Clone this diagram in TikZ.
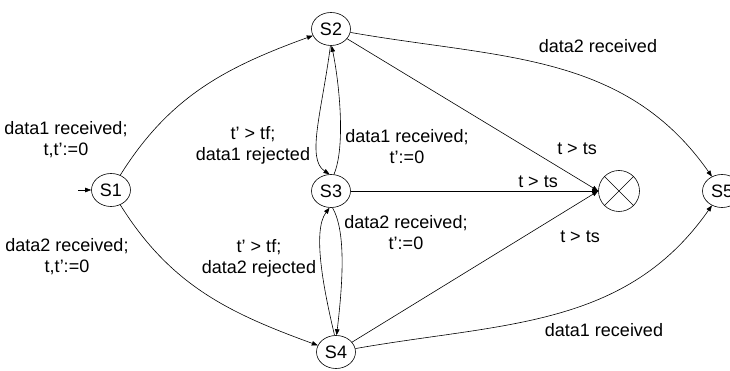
\documentclass[tikz,border=0pt]{standalone}
\usepackage{fontspec}
\setmainfont{Liberation Sans}
\usetikzlibrary{arrows.meta,shapes.geometric}
\begin{document}
\begin{tikzpicture}[x=1pt,y=1pt,
  every node/.style={font=\fontsize{18}{21}\selectfont},
  state/.style={draw,ellipse,minimum width=39pt,minimum height=33pt,inner sep=0pt},
  lbl/.style={align=center,inner sep=0pt},
  edge/.style={line width=0.6pt,-{Triangle[length=6pt,width=4.5pt]}},
  line width=0.6pt]
\useasboundingbox (0,0) rectangle (730,371);
\node[state] (S1) at (111,181) {S1};
\node[state] (S2) at (331,342) {S2};
\node[state] (S3) at (331,180) {S3};
\node[state] (S4) at (336,19) {S4};
\node[state] (S5) at (722,180) {S5};
\node[draw,circle,minimum size=41pt,inner sep=0pt] (X) at (619,180) {};
\draw (X.45) -- (X.225) (X.135) -- (X.315);
\coordinate (st) at (78,181);
\draw[edge] (st) -- (S1);
% labels
\node[lbl] (L1) at (66,231) {data1 received;\\t,t':=0};
\node[lbl] (L2) at (67,114) {data2 received;\\t,t':=0};
\node[lbl] (L3) at (253,226) {t' > tf;\\data1 rejected};
\node[lbl] (L4) at (407,224) {data1 received;\\t':=0};
\node[lbl] (L5) at (406,138) {data2 received;\\t':=0};
\node[lbl] (L6) at (259,113) {t' > tf;\\data2 rejected};
\node[lbl] (T1) at (577,222) {t > ts};
\node[lbl] (T2) at (538,189) {t > ts};
\node[lbl] (T3) at (580,134) {t > ts};
\node[lbl] (D2) at (598,325) {data2 received};
\node[lbl] (D1) at (604,41) {data1 received};
% edges
\draw[edge] (S1) to[out=58,in=200] (S2);
\draw[edge] (S1) to[out=-58,in=160] (S4);
\draw[edge] (S2.268) .. controls (322,260) and (306,212) .. (S3.95);
\draw[edge] (S3.80) .. controls (346,225) and (339,290) .. (S2.272);
\draw[edge] (S4.95) .. controls (324,80) and (312,140) .. (S3.265);
\draw[edge] (S3.-85) .. controls (346,140) and (343,90) .. (S4.88);
\draw[edge] (S2) -- (X.west);
\draw[edge] (S3) -- (X.west);
\draw[edge] (S4) -- (X.west);
\draw[edge] (S2) to[out=-10,in=125] (S5);
\draw[edge] (S4) to[out=10,in=235] (S5);
\end{tikzpicture}
\end{document}
